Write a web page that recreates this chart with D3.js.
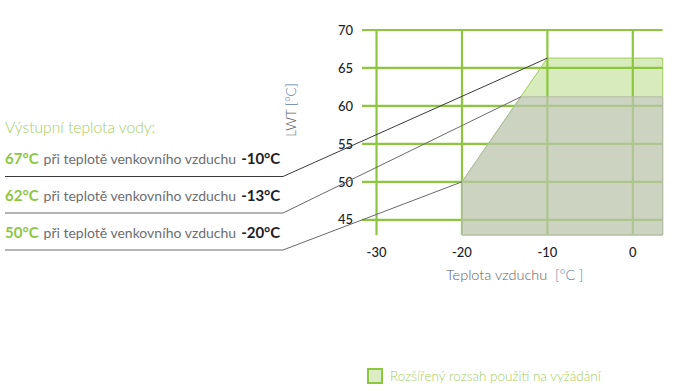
<!DOCTYPE html>
<html><head><meta charset="utf-8">
<script src="https://cdn.jsdelivr.net/npm/d3@7"></script>
<style>
html,body{margin:0;padding:0;background:#fff;}
svg{display:block;}
</style></head>
<body><svg id="c" width="683" height="392"></svg>
<script>
// ---- data ----
const xTicks = [-30, -20, -10, 0];
const yTicks = [45, 50, 55, 60, 65, 70];
const xDomain = [-31.7, 3.5];
const yDomain = [43, 70];
// extended range (light green) outline
const extendedX = [-20, -20, -10, 3.5, 3.5];
const extendedY = [43, 50, 66.3, 66.3, 43];
// standard range (gray) outline
const standardX = [-20, -20, -13.1, 3.5, 3.5];
const standardY = [43, 50, 61.2, 61.2, 43];
// callouts
const waterTemps = ["67°C", "62°C", "50°C"];
const airTemps = ["-10°C", "-13°C", "-20°C"];
const calloutX = [-10, -13.1, -20];
const calloutY = [66.3, 61.2, 50];
const titleText = "Výstupní teplota vody:";
const midText = "při teplotě venkovního vzduchu";
const yLabel = ["LWT ", "[°C]"];
const xLabel = ["Teplota vzduchu  ", "[°C ]"];
const legendText = "Rozšířený rozsah použití na vyžádání";

const svg = d3.select("#c");
const x = d3.scaleLinear().domain(xDomain).range([362, 662.7]);
const y = d3.scaleLinear().domain(yDomain).range([235, 30]);
const GREEN = "#8dc63f";
const FONT = "Lato, 'Open Sans', sans-serif";

// gridlines
const grid = svg.append("g");
grid.selectAll("line.h").data(yTicks).join("line")
  .attr("x1", x(xDomain[0])).attr("x2", x(xDomain[1]))
  .attr("y1", d => y(d)).attr("y2", d => y(d))
  .attr("stroke", GREEN).attr("stroke-width", 2.2);
grid.selectAll("line.v").data(xTicks).join("line")
  .attr("x1", d => x(d)).attr("x2", d => x(d))
  .attr("y1", y(70) - 1).attr("y2", y(yDomain[0]))
  .attr("stroke", GREEN).attr("stroke-width", 2.2);

// areas
const poly = (xs, ys) => d3.line()(xs.map((v, i) => [x(v), y(ys[i])])) + "Z";
svg.append("path").attr("d", poly(extendedX, extendedY))
  .attr("fill", GREEN).attr("fill-opacity", 0.35)
  .attr("stroke", "#9fcf5a").attr("stroke-width", 1);
svg.append("path").attr("d", poly(standardX, standardY))
  .attr("fill", "#c5c5c5").attr("fill-opacity", 0.6)
  .attr("stroke", "#b3bba8").attr("stroke-width", 1);

// y tick labels
svg.append("g").selectAll("text").data(yTicks).join("text")
  .attr("x", 353).attr("y", d => y(d)).attr("dy", "0.36em")
  .attr("text-anchor", "end").attr("font-family", FONT)
  .attr("font-size", 13).attr("font-weight", 500).attr("fill", "#1d1d2b")
  .text(d => d);
// x tick labels
svg.append("g").selectAll("text").data(xTicks).join("text")
  .attr("x", d => x(d)).attr("y", 257)
  .attr("text-anchor", "middle").attr("font-family", FONT)
  .attr("font-size", 13).attr("font-weight", 500).attr("fill", "#1d1d2b")
  .text(d => d);

// axis titles
const yt = svg.append("text").attr("transform", "translate(296,110) rotate(-90)")
  .attr("text-anchor", "middle").attr("font-family", FONT).attr("font-size", 13.5)
  .attr("font-weight", 300).attr("fill", "#5e5f63");
yt.append("tspan").text(yLabel[0]);
yt.append("tspan").attr("fill", "#5f7ca3").text(yLabel[1]);
const xt = svg.append("text").attr("x", 446).attr("y", 280)
  .attr("font-family", FONT).attr("font-size", 14.5)
  .attr("font-weight", 300).attr("fill", "#5e5f63").attr("xml:space", "preserve");
xt.append("tspan").text(xLabel[0]);
xt.append("tspan").attr("fill", "#5f7ca3").text(xLabel[1]);

// callout texts
svg.append("text").attr("x", 5).attr("y", 133)
  .attr("font-family", FONT).attr("font-size", 15.6).attr("font-weight", 300)
  .attr("fill", "#a5cd5b").text(titleText);

const rowY = [164, 201, 238];
const lineY = [176.5, 213, 250];
const underlineColor = ["#3a3a3a", "#6a6a6a", "#6a6a6a"];
waterTemps.forEach((w, i) => {
  const t = svg.append("text").attr("x", 5).attr("y", rowY[i])
    .attr("font-family", FONT).attr("font-size", 14);
  t.append("tspan").attr("font-weight", 700).attr("font-size", 15).attr("fill", GREEN).text(w);
  t.append("tspan").attr("dx", 5).attr("font-weight", 400).attr("fill", "#6d6e71").text(midText);
  t.append("tspan").attr("dx", 5).attr("font-weight", 700).attr("font-size", 15).attr("fill", "#1d1d2b").text(airTemps[i]);
  svg.append("path")
    .attr("d", d3.line()([[5, lineY[i]], [283, lineY[i]], [x(calloutX[i]), y(calloutY[i])]]))
    .attr("fill", "none").attr("stroke", underlineColor[i]).attr("stroke-width", 1);
});

// legend
svg.append("rect").attr("x", 368).attr("y", 369).attr("width", 14).attr("height", 14)
  .attr("fill", "#dcedc4").attr("stroke", GREEN).attr("stroke-width", 2);
svg.append("text").attr("x", 390).attr("y", 381)
  .attr("font-family", FONT).attr("font-size", 13.5).attr("font-weight", 300)
  .attr("fill", "#a5cd5b").text(legendText);
</script></body></html>
